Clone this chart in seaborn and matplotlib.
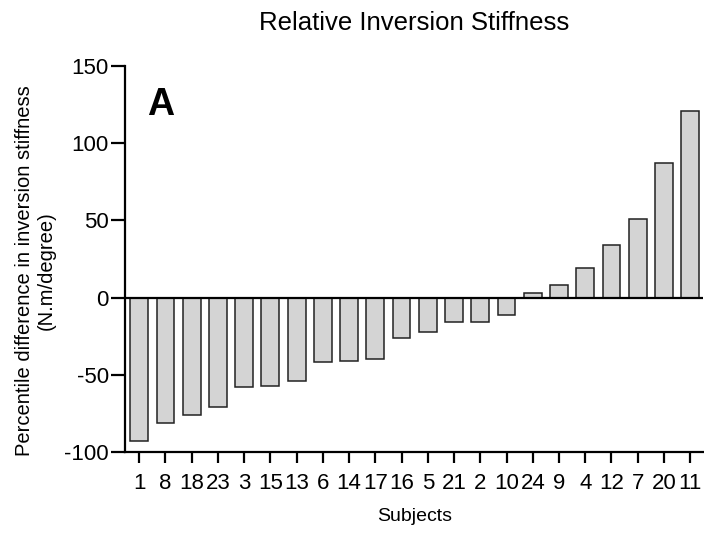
import pandas as pd
import seaborn as sns
import matplotlib.pyplot as plt

# Subjects sorted by relative inversion stiffness difference
subjects = ['1', '8', '18', '23', '3', '15', '13', '6', '14', '17', '16',
            '5', '21', '2', '10', '24', '9', '4', '12', '7', '20', '11']
pct_diff = [-93, -81, -76, -71, -58, -57, -54, -42, -41, -40, -26,
            -22, -16, -16, -11, 3, 8, 19, 34, 51, 87, 121]
y_ticks = [-100, -50, 0, 50, 100, 150]

df = pd.DataFrame({'subject': subjects, 'diff': pct_diff})

sns.set_style('ticks')
plt.rcParams['font.family'] = ['Liberation Sans', 'DejaVu Sans']
plt.rcParams['axes.unicode_minus'] = False
plt.rcParams['text.color'] = 'black'
plt.rcParams['axes.labelcolor'] = 'black'

fig = plt.figure(figsize=(7.04, 5.33), dpi=100)
ax = fig.add_axes([0.178, 0.152, 0.821, 0.724])

sns.barplot(data=df, x='subject', y='diff', order=subjects, color='#d4d4d4',
            saturation=1, width=0.68, edgecolor='#222222', linewidth=1.1, ax=ax)

ax.axhline(0, color='black', linewidth=1.6, zorder=3)
ax.set_ylim(-100, 150)
ax.set_xlim(-0.53, len(subjects) - 0.5)
ax.set_yticks(y_ticks)

sns.despine(ax=ax)
for s in ['left', 'bottom']:
    ax.spines[s].set_linewidth(1.6)
    ax.spines[s].set_color('black')
ax.tick_params(axis='both', labelsize=16, width=1.6, length=8, colors='black')
ax.tick_params(axis='y', length=10, pad=2)
ax.tick_params(axis='x', pad=7)

ax.set_xlabel('Subjects', fontsize=14, labelpad=10)
ax.set_ylabel('Percentile difference in inversion stiffness\n(N.m/degree)',
              fontsize=14.5, labelpad=6)
ax.yaxis.label.set_y(0.47)
ax.set_title('Relative Inversion Stiffness', fontsize=18.5, pad=26)

ax.text(0.8, 125, 'A', fontsize=27, fontweight='bold', ha='center', va='center')

plt.savefig('out.png', dpi=100)
plt.close()
